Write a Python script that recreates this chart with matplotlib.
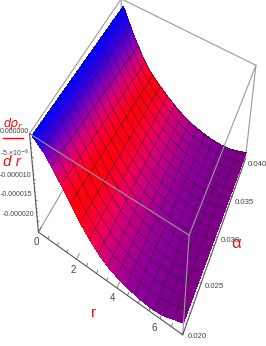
import numpy as np
import matplotlib
matplotlib.use("Agg")
import matplotlib.pyplot as plt

plt.rcParams["font.family"] = ["Liberation Sans Narrow", "Liberation Sans"]

# surface, z in units of 1e-5
r_vals = [0.12, 0.7, 1.2, 1.7, 2.2, 2.7, 3.2, 3.7, 4.2, 4.7, 5.2, 5.7, 6.2, 6.6, 7.0]
alpha_vals = [0.020, 0.030, 0.040]
z_low = [-0.01, -0.24, -0.56, -0.90, -1.26, -1.55, -1.79, -1.96, -2.06, -2.13, -2.18, -2.20, -2.16, -2.08, -2.00]
z_mid = [-0.08, -0.47, -0.84, -1.16, -1.44, -1.68, -1.88, -2.03, -2.13, -2.19, -2.23, -2.25, -2.21, -2.14, -2.07]
z_high = [-0.15, -0.70, -1.10, -1.41, -1.62, -1.80, -1.96, -2.09, -2.18, -2.24, -2.28, -2.29, -2.26, -2.20, -2.13]

# colour along r
col_r = [0.12, 0.5, 0.8, 1.1, 1.4, 1.8, 2.2, 2.8, 3.2, 3.7, 4.2, 4.7, 5.2, 5.7, 6.2, 7.0]
col_red = [0, 60, 130, 200, 245, 255, 255, 240, 215, 190, 165, 145, 135, 128, 125, 125]
col_blue = [255, 220, 180, 130, 70, 10, 20, 80, 115, 130, 145, 150, 150, 145, 140, 130]

r_ticks = [0, 2, 4, 6]
alpha_ticks = ["0.020", "0.025", "0.030", "0.035", "0.040"]
z_ticks = ["0.000000", "-5.\u00d710$^{-6}$", "-0.000010", "-0.000015", "-0.000020"]

Z_TABLE = np.array([z_low, z_mid, z_high]).T * 1e-5


def surf_z(r, a):
    # z on the surface at arrays r, a
    by_alpha = np.array([np.interp(r, r_vals, Z_TABLE[:, i]) for i in range(3)])
    return np.array([np.interp(a[j], alpha_vals, by_alpha[:, j]) for j in range(len(r))])


fig = plt.figure(figsize=(2.66, 3.46), dpi=100)
ax = fig.add_axes([0, 0, 1, 1], projection="3d", computed_zorder=False)
ax.apply_aspect = lambda position=None: None
ax.set_position([29.0 / 266, -1.4 / 346, 232.65 / 266, 388.9 / 346])
ax.set_xlim(0, 7)
ax.set_ylim(0.02, 0.04)
ax.set_zlim(-2.3e-5, 0)
ax.set_box_aspect((1, 1.05, 0.475))
ax.view_init(39.592, -63.653, -1.987)
ax.set_proj_type("persp", focal_length=0.419)
ax.set_axis_off()
ax.patch.set_visible(False)

BACK = "#9a9a9a"
DARK = "#555555"
x0, x1, y0, y1, z0, z1 = 0, 7, 0.02, 0.04, -2.3e-5, 0


def seg(a, b, color=BACK, lw=0.8, zorder=1):
    ax.plot([a[0], b[0]], [a[1], b[1]], [a[2], b[2]], color=color, lw=lw, zorder=zorder, solid_capstyle="round")


# box behind the surface
seg((x0, y0, z1), (x0, y1, z1))
seg((x0, y1, z1), (x1, y1, z1))
seg((x1, y1, z1), (x1, y1, z0))
seg((x0, y0, z0), (x0, y1, z0))
seg((x0, y1, z0), (x1, y1, z0))
seg((x0, y1, z0), (x0, y1, z1))

# surface
rr = np.linspace(0.12, 7, 137)
aa = np.linspace(0.02, 0.04, 41)
R, A = np.meshgrid(rr, aa, indexing="ij")
Z = surf_z(R.ravel(), A.ravel()).reshape(R.shape)
rc = (rr[:-1] + rr[1:]) / 2
red = np.interp(rc, col_r, col_red) / 255
blue = np.interp(rc, col_r, col_blue) / 255
cols = np.zeros((len(rc), len(aa) - 1, 4))
cols[:, :, 0] = red[:, None]
cols[:, :, 2] = blue[:, None]
cols[:, :, 3] = 1
ax.plot_surface(R, A, Z, facecolors=cols, rstride=1, cstride=1, shade=False, linewidth=0, antialiased=False, zorder=2)

# mesh
MESH = (0.18, 0.08, 0.22, 0.6)
for rm in np.linspace(0.12, 7, 17)[1:-1]:
    line_r = np.full(len(aa), rm)
    ax.plot(line_r, aa, surf_z(line_r, aa), color=MESH, lw=0.5, zorder=3)
for am in np.linspace(0.02, 0.04, 17)[1:-1]:
    line_a = np.full(len(rr), am)
    ax.plot(rr, line_a, surf_z(rr, line_a), color=MESH, lw=0.5, zorder=3)
ax.plot(rr, np.full(len(rr), 0.04), surf_z(rr, np.full(len(rr), 0.04)), color=(0.1, 0.05, 0.15, 0.7), lw=0.5, zorder=3)

# box in front
seg((x0, y0, z1), (x1, y0, z1), zorder=4)
seg((x1, y0, z1), (x1, y1, z1), zorder=4)
seg((x1, y0, z1), (x1, y0, z0), zorder=4)

# axes
seg((x0, y0, z0), (x1, y0, z0), color=DARK, zorder=4)
seg((x1, y0, z0), (x1, y1, z0), color=DARK, zorder=4)
seg((x0, y0, z1), (x0, y0, z0), color=DARK, zorder=4)

for t in np.arange(0, 7.01, 0.5):
    n = 0.0006 if t % 2 == 0 else 0.0003
    seg((t, y0, z0), (t, y0 + n, z0), color=DARK, lw=0.5, zorder=4)
for t in np.arange(0.02, 0.04001, 0.001):
    n = 0.1 if round(t * 1000) % 5 == 0 else 0.05
    seg((x1, t, z0), (x1 - n, t, z0), color=DARK, lw=0.5, zorder=4)
for t in np.arange(-2.0e-5, 1e-9, 1e-6):
    n = 0.1 if round(t * 1e6) % 5 == 0 else 0.05
    seg((x0, y0, t), (x0 + n, y0, t), color=DARK, lw=0.5, zorder=4)


def label(x, y, s, **kw):
    # x, y in picture pixels
    fig.text(x / 266, 1 - y / 346, s, **kw)


TICK = dict(color="#444444", va="center")
for t, x, y in zip(r_ticks, [36, 73, 112, 154], [242, 270, 298, 328]):
    label(x, y, str(t), ha="center", fontsize=7, **TICK)
for t, x, y in zip(alpha_ticks, [188, 205, 221, 235, 248], [337, 287, 241, 202, 165]):
    label(x, y, t, ha="left", fontsize=5.6, **TICK)
for t, x, y in zip(z_ticks, [28.5, 29, 31, 32, 34], [132, 153, 175, 195, 215]):
    label(x, y, t, ha="right", fontsize=5, **TICK)

RED = "#ee1111"
label(94, 313, "r", color=RED, fontsize=11, ha="center", va="center")
label(236, 243, "\u03b1", color=RED, fontsize=12, ha="center", va="center", family=["Liberation Sans", "DejaVu Sans"])
label(13, 124, "d$\\rho_r$", color=RED, fontsize=9, ha="center", va="center", style="italic")
label(12, 162, "d r", color=RED, fontsize=11, ha="center", va="center", style="italic")
fig.add_artist(plt.Line2D([3 / 266, 23 / 266], [1 - 138 / 346, 1 - 138 / 346], color=RED, lw=1))

fig.savefig("out.png", dpi=100)
